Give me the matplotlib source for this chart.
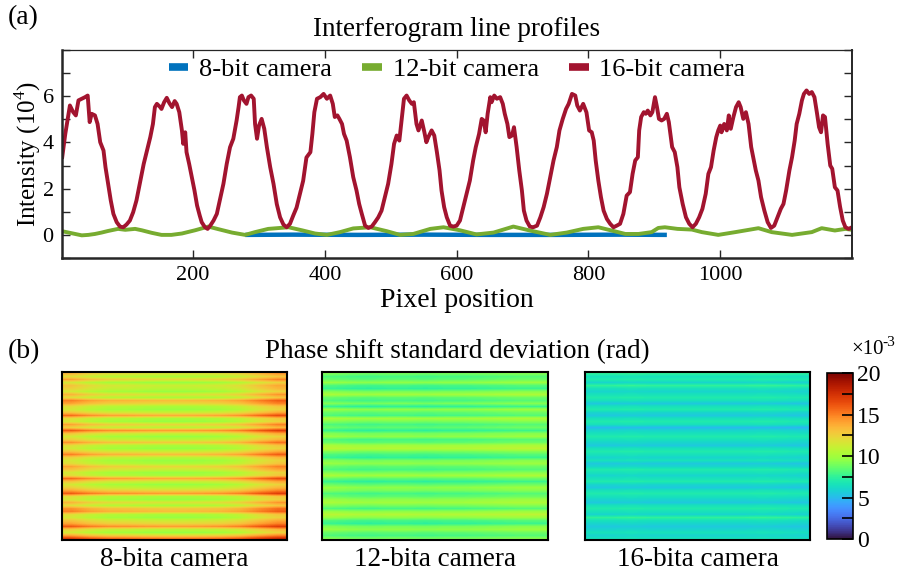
import numpy as np
import matplotlib
matplotlib.use("Agg")
import matplotlib.pyplot as plt
from matplotlib.lines import Line2D
from matplotlib.ticker import MultipleLocator

plt.rcParams['font.family'] = ['Liberation Serif', 'DejaVu Serif']
plt.rcParams['mathtext.fontset'] = 'custom'
plt.rcParams['mathtext.rm'] = 'Liberation Serif'

# ---- line profiles (pixel, intensity in 1e4) ----
red_x = [1, 6, 11, 13, 18, 22, 26, 31, 36, 40, 43, 46, 51, 55, 59, 64, 67, 71, 75, 79, 84, 89, 94, 99,
         104, 109, 114, 119, 125, 130, 135, 139, 142, 145, 150, 152, 156, 160, 164, 168, 172, 175, 179,
         183, 185, 188, 190, 194, 198, 202, 206, 210, 213, 218, 222, 226, 231, 236, 241, 246, 251, 256,
         261, 266, 269, 271, 274, 277, 281, 284, 288, 292, 294, 297, 300, 304, 308, 312, 317, 322, 327,
         332, 337, 342, 347, 352, 357, 362, 367, 372, 378, 381, 384, 388,
         393, 398, 403, 408, 412, 415, 419, 422, 426, 429, 433, 438, 443, 448, 452, 456, 461, 466, 471,
         476, 481, 486, 491, 496, 501, 505, 509, 513, 517, 520, 524, 528, 532, 535, 539, 542, 547, 551,
         554, 557, 562, 566, 570, 574, 577, 581, 585, 590, 595, 600, 605, 610, 615, 620, 625, 629, 634,
         638, 641, 644, 647, 651, 653, 657, 661, 666, 670, 673, 677, 680, 684, 687, 691, 695, 699, 702,
         706, 711, 716, 722, 727, 732, 737, 742, 747, 752, 756, 761, 766, 770, 775, 780, 783, 787, 792,
         797, 801, 805, 808, 811, 815, 819, 823, 828, 833, 838, 843, 848, 853, 858, 863, 867, 871, 875,
         877, 880, 884, 887, 890, 894, 897, 901, 904, 907, 911, 915, 919, 922, 927, 931, 935, 938, 943,
         948, 953, 958, 963, 968, 973, 978, 982, 986, 990, 994, 997, 1000, 1002, 1006, 1010, 1013, 1016,
         1020, 1024, 1028, 1031, 1035, 1039, 1043, 1047, 1050, 1054, 1058, 1062, 1067, 1072, 1077, 1082,
         1087, 1092, 1096, 1100, 1105, 1109, 1113, 1116, 1120, 1124, 1127, 1131, 1135, 1139, 1143, 1147,
         1150, 1153, 1156, 1159, 1163, 1167, 1170, 1174, 1178, 1182, 1186, 1190, 1195, 1200]
red_y = [3.29, 4.37, 5.24, 5.6, 5.31, 5.17, 5.82, 5.89, 5.96, 6.03, 4.88, 5.24, 5.17, 4.8, 4.01, 3.65,
         2.93, 2.21, 1.49, 0.91, 0.55, 0.36, 0.33, 0.45, 0.62, 0.98, 1.49, 2.21, 3.07, 3.65, 4.23, 4.8,
         5.53, 5.67, 5.53, 5.45, 5.74, 5.93, 5.7, 5.53, 5.79, 5.67, 5.31, 4.52, 3.94, 4.44, 3.58, 3.07,
         2.5, 1.93, 1.27, 0.84, 0.55, 0.33, 0.26, 0.4, 0.62, 0.91, 1.56, 2.21, 3.07, 3.79, 4.16, 4.95,
         5.53, 5.96, 6.03, 5.82, 5.67, 5.96, 6.03, 5.89, 4.8, 4.16, 4.73, 5.02, 4.59, 3.79, 2.93, 2.21,
         1.33, 0.76, 0.45, 0.33, 0.48, 0.84, 1.18, 1.76, 2.34, 3.35, 3.58, 4.37, 5.31, 5.89,
         5.96, 6.1, 5.89, 6.03, 5.67, 5.1, 5.17, 5.02, 4.8, 4.37, 4.08, 3.36, 2.5, 1.92, 1.34, 0.91,
         0.4, 0.3, 0.36, 0.55, 0.76, 1.05, 1.63, 2.21, 3.07, 3.94, 4.3, 4.08, 5.1, 5.89, 6.03, 5.82,
         5.67, 5.74, 4.8, 4.52, 4.95, 4.44, 4.01, 4.23, 4.52, 4.3, 3.58, 2.79, 1.92, 1.2, 0.76, 0.4,
         0.36, 0.4, 0.62, 1.2, 1.78, 2.35, 3.22, 3.8, 4.37, 5.02, 4.95, 4.44, 5.24, 5.96, 5.74, 6.03,
         5.89, 5.96, 5.67, 5.24, 4.8, 4.23, 4.3, 4.66, 3.8, 2.79, 1.92, 1.05, 0.62, 0.36, 0.33, 0.4,
         0.76, 1.2, 1.78, 2.5, 3.22, 3.8, 4.52, 5.02, 5.45, 5.67, 6.1, 6.03, 5.6, 5.38, 5.67,
         5.3, 4.52, 4.44, 4.08, 3.22, 2.35, 1.63, 1.05, 0.69, 0.48, 0.33, 0.4, 0.48, 0.91, 1.7, 1.85,
         2.64, 3.22, 3.36, 4.52, 5.1, 5.31, 5.24, 5.38, 5.17, 5.31, 5.96, 5.53, 5.02, 4.95, 5.02, 5.24,
         4.88, 3.8, 3.58, 2.93, 2.06, 1.34, 0.76, 0.48, 0.33, 0.48, 0.76, 1.13, 1.78, 2.64, 2.93, 3.65,
         4.23, 4.52, 4.73, 4.44, 4.8, 4.52, 5.17, 4.59, 5.1, 5.53, 5.74, 5.53, 5.02, 5.31, 4.8, 3.8,
         3.36, 2.79, 2.35, 1.63, 1.05, 0.55, 0.3, 0.4, 0.76, 1.13, 1.34, 1.92, 2.79, 3.36, 4.08, 4.8,
         5.24, 5.82, 6.1, 6.25, 6.1, 6.18, 5.96, 5.24, 4.66, 4.44, 5.17, 5.1, 3.94, 3.0, 2.86, 2.06,
         1.92, 1.2, 0.62, 0.33, 0.26, 0.33]

green_x = [1, 11, 21, 31, 41, 51, 61, 71, 86, 97, 112, 122, 137, 152, 167, 183, 203, 223, 238, 259,
           279, 294, 314, 345, 365, 385, 403, 423, 443, 469, 494, 514, 534, 560, 580, 605, 630, 656,
           686, 711, 742, 767, 792, 815, 835, 856, 876, 896, 906, 916, 935, 957, 972, 997, 1023, 1058,
           1078, 1109, 1139, 1154, 1174, 1190, 1200]
green_y = [0.16, 0.1, 0.04, -0.02, 0.0, 0.04, 0.1, 0.17, 0.26, 0.22, 0.26, 0.2, 0.09, 0.0, 0.0, 0.06,
           0.2, 0.36, 0.25, 0.1, 0.0, 0.12, 0.26, 0.33, 0.2, 0.06, 0.0, 0.12, 0.28, 0.33, 0.16, 0.0,
           0.04, 0.26, 0.33, 0.2, 0.02, 0.1, 0.36, 0.19, 0.0, 0.1, 0.26, 0.33, 0.19, 0.04, 0.04, 0.12,
           0.3, 0.33, 0.26, 0.23, 0.12, 0.0, 0.12, 0.29, 0.12, 0.0, 0.12, 0.29, 0.19, 0.26, 0.22]

blue_x = [279, 350, 450, 550, 650, 750, 850, 919]
blue_y = [0.0, 0.01, 0.0, 0.01, 0.0, 0.0, 0.01, 0.0]

series_names = ['8-bit camera', '12-bit camera', '16-bit camera']
series_colors = ['#0072BD', '#77AC30', '#A2142F']

# ---- phase shift std maps (x1e-3 rad): row profiles + column offsets ----
rows_8bit = [12, 10.5, 12.5, 10, 11.5, 11, 10, 12, 10.5, 13.5, 12.5, 10.5, 10, 11.5, 14, 10.5, 10,
             12.5, 11, 14.5, 11.5, 10, 11, 13, 10.5, 10, 11.5, 13.5, 11, 10, 10.5, 12.5, 11.5, 10,
             10.5, 14, 11.5, 10, 11, 12.5, 14.5, 10.5, 10, 12, 10.5, 13, 13.5, 10.5, 10, 11.5, 12.5,
             14.5, 11, 10, 12.5, 15.5]
cols_8bit = [1.5, 0.6, 0.1, 0.0, -0.2, -0.3, -0.3, -0.2, 0.0, 0.5, 1.5, 2.4]
rows_12bit = [9, 8, 8.5, 9.5, 8, 7.5, 9, 10, 8.5, 8, 9, 7.5, 9.5, 8.5, 8, 10, 9, 8, 8.5,
              7.5, 9, 9.5, 8, 8.5, 10, 10.5, 9, 8, 7.5, 9, 9.5, 8.5, 8, 9, 10, 8.5, 7.5, 8.5, 9.5,
              9, 8, 8.5, 9.5, 10, 9, 8, 9.5, 10.5, 9.5, 8, 7.5, 9, 9.5, 8.5, 8, 9]
cols_12bit = [0.2, 0.0, -0.1, 0.0, 0.0, -0.1, 0.0, 0.0, 0.1, 0.2, 0.3, 0.3]
rows_16bit = [7.5, 6.5, 7, 6, 7.5, 6.5, 6, 6.5, 7, 6.5, 5.5, 6.5, 7, 6, 5.5, 6.5, 7, 6.5, 5, 6,
              6.5, 7, 6.5, 6, 5.5, 6.5, 7, 6.5, 6, 6.5, 5.5, 6, 7, 6.5, 6, 6.5, 7, 6, 5.5, 6.5,
              7, 6.5, 6, 5.5, 6.5, 7, 6.5, 6, 7.5, 6.5, 6, 5.5, 6, 6.5, 6, 6.5]
cols_16bit = [0.0, 0.0, 0.1, 0.0, 0.0, 0.0, 0.0, 0.0, 0.0, 0.1, 0.0, -0.1]
map_labels = ['8-bita camera', '12-bita camera', '16-bita camera']
cbar_ticks = [0, 5, 10, 15, 20]

W, H = 899, 575
fig = plt.figure(figsize=(W / 100, H / 100), dpi=100)


def px_box(x0, y0, x1, y1):
    return [x0 / W, 1 - y1 / H, (x1 - x0) / W, (y1 - y0) / H]


FS = 16      # tick labels
LFS = 19.5   # titles, axis labels, legend
dark = '#262626'

# (a) line profiles
ax = fig.add_axes(px_box(62, 50, 852, 258))
for xs, ys, c, lw in [(blue_x, blue_y, series_colors[0], 3.2),
                      (green_x, green_y, series_colors[1], 2.8),
                      (red_x, red_y, series_colors[2], 2.8)]:
    ax.plot(xs, ys, color=c, lw=lw, solid_capstyle='butt')
ax.set_xlim(1, 1200)
ax.set_ylim(-1, 8)
ax.set_xticks([200, 400, 600, 800, 1000])
ax.set_yticks([0, 2, 4, 6])
ax.yaxis.set_minor_locator(MultipleLocator(1))
ax.tick_params(which='both', direction='in', top=True, right=True, length=6, width=1,
               color=dark, labelsize=FS, pad=6)
for s in ax.spines.values():
    s.set_color(dark)
ax.spines['left'].set_linewidth(1.8)
ax.spines['bottom'].set_linewidth(1.8)
ax.spines['top'].set_linewidth(0.9)
ax.spines['right'].set_linewidth(1.4)
ax.set_xlabel('Pixel position', fontsize=LFS + 0.5, labelpad=2)
ax.set_ylabel('Intensity (10$^4$)', fontsize=18, labelpad=0)
handles = [Line2D([], [], color=c, lw=5.5, solid_capstyle='butt') for c in series_colors]
ax.legend(handles, series_names, loc='upper center', ncol=3, frameon=False, fontsize=LFS - 0.5,
          handlelength=0.75, handletextpad=0.4, columnspacing=1.15, borderaxespad=0.0,
          bbox_to_anchor=(0.5, 1.015))

fig.text(8 / W, 1 - 18 / H, '(a)', fontsize=LFS + 0.5, va='center', ha='left')
fig.text(457 / W, 1 - 30 / H, 'Interferogram line profiles', fontsize=LFS, va='center', ha='center')

# (b) maps
maps = [(rows_8bit, cols_8bit), (rows_12bit, cols_12bit), (rows_16bit, cols_16bit)]
boxes = [(62, 372, 287, 540), (322, 372, 548, 540), (585, 372, 810, 540)]
for (rows, cols), box, lab in zip(maps, boxes, map_labels):
    a = fig.add_axes(px_box(*box))
    img = np.array(rows)[:, None] + np.array(cols)[None, :]
    im = a.imshow(img, cmap='turbo', vmin=0, vmax=20, aspect='auto', interpolation='bilinear')
    a.set_xticks([])
    a.set_yticks([])
    for s in a.spines.values():
        s.set_linewidth(1.5)
        s.set_color('black')
    a.text(0.5, -0.04, lab, transform=a.transAxes, ha='center', va='top', fontsize=LFS)

cax = fig.add_axes(px_box(827, 373, 853, 539))
cb = fig.colorbar(im, cax=cax, ticks=cbar_ticks)
cb.ax.yaxis.set_minor_locator(MultipleLocator(2.5))
cb.ax.tick_params(which='both', direction='in', length=8, width=1.2, color='black',
                  labelsize=FS + 1, pad=3)
cb.outline.set_linewidth(1.2)
fig.text(851 / W, 1 - 349 / H, '×10', fontsize=15, va='center', ha='left')
fig.text(882 / W, 1 - 343 / H, '-3', fontsize=11, va='center', ha='left')

fig.text(8 / W, 1 - 352 / H, '(b)', fontsize=LFS + 0.5, va='center', ha='left')
fig.text(457 / W, 1 - 352 / H, 'Phase shift standard deviation (rad)', fontsize=LFS,
         va='center', ha='center')

fig.savefig('out.png', dpi=100)
